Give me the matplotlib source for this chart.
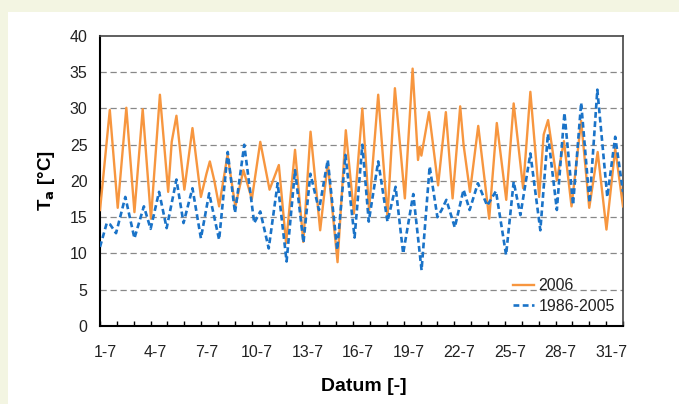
import matplotlib.pyplot as plt
from matplotlib.patches import Rectangle
from matplotlib.ticker import FixedLocator, NullFormatter

plt.rcParams['font.family'] = ['Liberation Sans', 'DejaVu Sans']

# time in days (1.0 = 1 July 00:00), air temperature in degC
day_2006 = [1.0, 1.58, 2.05, 2.56, 3.04, 3.53, 4.02, 4.55, 5.04, 5.25, 5.53, 6.0, 6.48,
            6.98, 7.31, 7.51, 7.77, 8.06, 8.56, 9.02, 9.5, 10.0, 10.5, 11.05, 11.6, 12.03,
            12.56, 13.05, 13.48, 14.05, 14.5, 15.08, 15.57, 16.05, 16.55, 16.95, 17.49,
            18.04, 18.48, 19.07, 19.53, 19.85, 19.95, 20.05, 20.5, 21.04, 21.5, 21.9,
            22.35, 22.55, 22.93, 23.42, 24.07, 24.52, 25.08, 25.52, 26.08, 26.51, 27.03,
            27.3, 27.56, 28.08, 28.5, 28.95, 29.52, 30.0, 30.5, 31.02, 31.54, 32.0]
temp_2006 = [16.0, 29.8, 16.3, 30.1, 15.7, 29.9, 14.8, 31.9, 18.5, 25.4, 29.0, 18.8, 27.3,
             17.8, 21.0, 22.7, 20.1, 16.5, 23.6, 16.5, 21.5, 17.5, 25.4, 18.8, 22.2, 11.4,
             24.3, 11.6, 26.8, 13.2, 22.5, 8.8, 27.0, 15.5, 30.0, 16.0, 31.9,
             15.1, 32.8, 17.6, 35.5, 22.9, 24.7, 23.5, 29.5, 19.4, 29.5, 17.6,
             30.3, 25.0, 18.5, 27.6, 14.8, 28.0, 17.4, 30.7, 19.0, 32.3, 17.8,
             26.4, 28.4, 20.1, 25.5, 16.5, 28.3, 16.3, 24.0, 13.3, 24.5, 16.5]

day_ref = [1.0, 1.4, 1.6, 1.95, 2.5, 3.04, 3.6, 4.0, 4.5, 4.95, 5.53, 5.95, 6.48, 6.98,
           7.47, 8.06, 8.57, 9.0, 9.55, 10.14, 10.5, 11.0, 11.53, 12.06, 12.56, 13.06,
           13.47, 13.98, 14.5, 15.06, 15.55, 16.09, 16.55, 16.93, 17.49, 18.04, 18.52,
           18.97, 19.57, 20.06, 20.54, 21.0, 21.25, 21.53, 22.03, 22.55, 22.91, 23.4,
           23.95, 24.47, 25.07, 25.52, 25.92, 26.51, 27.1, 27.55, 28.08, 28.53, 29.04,
           29.52, 30.02, 30.48, 31.07, 31.54, 32.0]
temp_ref = [10.9, 14.2, 14.0, 12.8, 17.8, 12.1, 16.5, 13.4, 18.5, 13.5, 20.2, 14.2, 19.0, 12.1,
            18.3, 11.9, 24.0, 15.6, 25.0, 14.2, 15.8, 10.7, 19.7, 8.9, 21.5, 11.5,
            21.0, 16.0, 22.9, 10.5, 23.6, 12.2, 25.0, 14.4, 22.7, 14.4, 19.2,
            10.0, 18.2, 7.7, 22.0, 15.0, 16.0, 17.4, 13.6, 18.8, 16.0, 19.7,
            16.6, 18.6, 9.8, 19.9, 15.3, 23.8, 13.2, 26.5, 16.0, 29.4, 16.7,
            30.8, 17.0, 32.6, 17.8, 26.1, 18.5]

label_days = [1, 4, 7, 10, 13, 16, 19, 22, 25, 28, 31]
tick_labels = [f'{d}-7' for d in label_days]

fig = plt.figure(figsize=(6.79, 4.04), dpi=100)
fig.patch.set_facecolor('#f3f5e2')
fig.patches.append(Rectangle((8 / 679, 0), 671 / 679, 392 / 404, transform=fig.transFigure,
                             facecolor='white', edgecolor='none', zorder=-5))

ax = fig.add_axes([0.1473, 0.1931, 0.7702, 0.7178])
ax.plot(day_2006, temp_2006, color='#f7963f', lw=1.7, label='2006', zorder=3,
        solid_joinstyle='round')
ax.plot(day_ref, temp_ref, color='#1a73c8', lw=1.9, ls=(0, (2.2, 1.3)),
        label='1986-2005', zorder=4, dash_joinstyle='round')

ax.set_xlim(1, 32)
ax.set_ylim(0, 40)
ax.set_yticks(range(0, 41, 5))
for v in range(5, 40, 5):
    ax.axhline(v, color='#888888', lw=0.9, ls=(0, (5, 3)), zorder=1)

ax.xaxis.set_minor_locator(FixedLocator(range(1, 33)))
ax.xaxis.set_minor_formatter(NullFormatter())
ax.set_xticks([d + 0.3 for d in label_days])
ax.set_xticklabels(tick_labels)
ax.tick_params(axis='x', which='major', length=0, pad=14, labelsize=11.5, labelcolor='#222222')
ax.tick_params(axis='x', which='minor', direction='in', length=3.5, width=1, color='black')
ax.tick_params(axis='y', length=0, pad=9, labelsize=11.5, labelcolor='#222222')

for side in ['left', 'bottom']:
    ax.spines[side].set_color('black')
    ax.spines[side].set_linewidth(1.5)
for side in ['top', 'right']:
    ax.spines[side].set_color('#444444')
    ax.spines[side].set_linewidth(1.2)

ax.set_ylabel('T$_\\mathbf{a}$ [°C]', fontsize=13.5, fontweight='bold')
ax.yaxis.set_label_coords(-0.082, 0.5)
ax.set_xlabel('Datum [-]', fontsize=14, fontweight='bold', va='top')
ax.xaxis.set_label_coords(0.505, -0.18)

ax.legend(loc='upper left', bbox_to_anchor=(0.79, 0.165), frameon=False, fontsize=11.5,
          handlelength=1.3, handletextpad=0.3, labelspacing=0.35, borderpad=0,
          borderaxespad=0, labelcolor='#222222')

fig.savefig('out.png', dpi=100)
